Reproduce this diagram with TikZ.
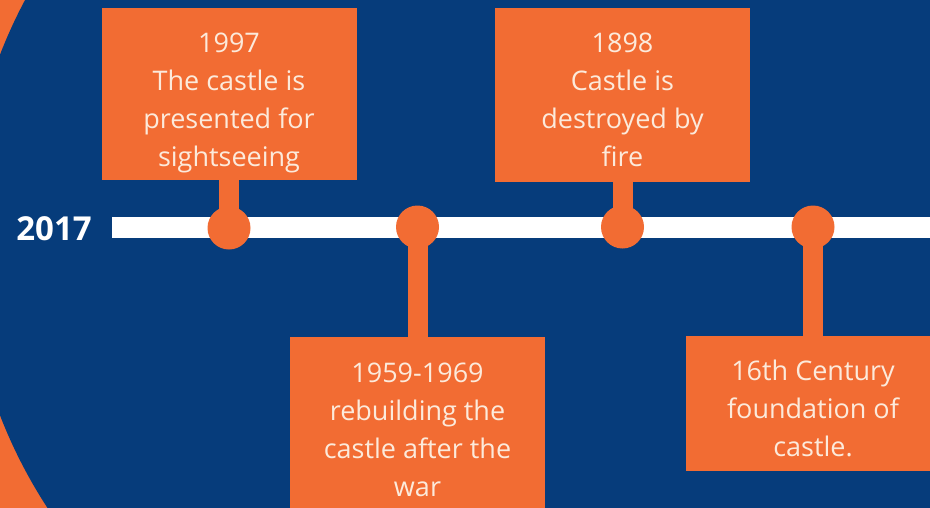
\documentclass[tikz,border=0pt]{standalone}
\usepackage{fontspec}
\setmainfont{Open Sans}
\definecolor{bgblue}{HTML}{063C7B}
\definecolor{accent}{HTML}{F26C33}
\definecolor{cream}{HTML}{FCEADB}
\tikzset{
  evbox/.style={fill=accent, draw=none, inner sep=0pt, minimum width=255pt, anchor=north},
  evtext/.style={text=cream, align=center, font=\fontsize{27}{38}\selectfont, anchor=base, inner sep=0pt},
  dot/.style={circle, fill=accent, draw=none, minimum size=43pt, inner sep=0pt},
  stem/.style={draw=accent, line width=20pt},
  bar/.style={draw=white, line width=21pt},
}
\begin{document}
\begin{tikzpicture}[x=1pt,y=-1pt]
\useasboundingbox (0,0) rectangle (930,507);
\clip (0,0) rectangle (930,507);
% background: orange with large blue disc on the left edge
\fill[accent] (-10,-10) rectangle (940,517);
\fill[bgblue] (466.5,235) circle[radius=500pt] (466.5,-10) rectangle (940,517);
% timeline
\coordinate (tl0) at (112,227.5);
\coordinate (tl1) at (940,227.5);
\draw[bar] (tl0) -- (tl1);
\node[font=\fontsize{33}{40}\selectfont\bfseries, text=white, anchor=base, inner sep=0pt] (y2017) at (54,240) {2017};
% boxes
\node[evbox, minimum height=172pt] (b1) at (229,8) {};
\node[evbox, minimum height=174pt] (b2) at (622.5,8) {};
\node[evbox, minimum height=200pt] (b3) at (417.5,337) {};
\node[evbox, minimum height=135pt] (b4) at (813,336) {};
% dots
\node[dot] (c1) at (229,228) {};
\node[dot] (c2) at (417.5,227) {};
\node[dot] (c3) at (622.5,227) {};
\node[dot] (c4) at (813,227) {};
% stems
\draw[stem] (b1.south) -- (c1.center);
\draw[stem] (b2.south) -- (c3.center);
\draw[stem] (b3.north) -- (c2.center);
\draw[stem] (b4.north) -- (c4.center);
% texts (anchored at the baseline of the last line)
\node[evtext] (t1) at (229,166) {1997\\The castle is\\presented for\\sightseeing};
\node[evtext] (t2) at (622.5,166) {1898\\Castle is\\destroyed by\\fire};
\node[evtext] (t3) at (417.5,496) {1959-1969\\rebuilding the\\castle after the\\war};
\node[evtext] (t4) at (813,456) {16th Century\\foundation of\\castle.};
\end{tikzpicture}
\end{document}
